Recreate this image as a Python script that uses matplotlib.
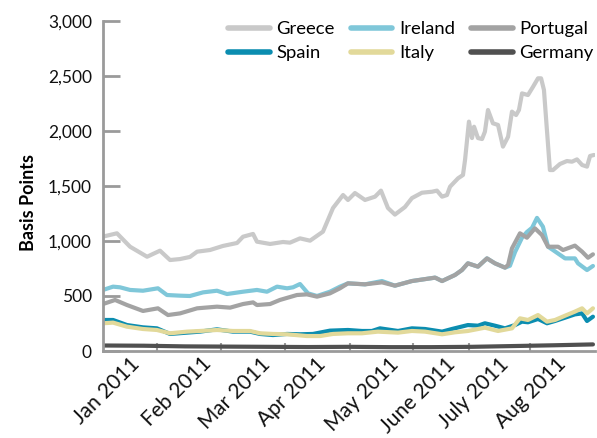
import numpy as np
import matplotlib
matplotlib.use("Agg")
import matplotlib.pyplot as plt
from matplotlib.ticker import FuncFormatter, FixedLocator

# x = days since 1 Jan 2011, y = spread in basis points
greece_x = [0, 6.8, 13.2, 21.5, 27.8, 32.7, 37.6, 42.4, 45.9, 52.2, 58.5, 65.4, 68.3,
            73.2, 75.1, 81.5, 87.8, 91.2, 96.1, 101, 107.3, 112.2, 117.1, 119.5, 122.9,
            127.8, 132.7, 135.6, 139, 142.4, 147.3, 150.7, 155.6, 160.5, 162.9, 165.4,
            167.8, 169.3, 173.2, 175.6, 176.6, 178.5, 180, 181, 182.9, 184.9, 186.3,
            187.8, 190.2, 192.7, 195.1, 197.6, 199.5, 201.5, 202.9, 204.4, 207.3, 209.8,
            212.2, 213.7, 215.1, 218, 219.5, 222.9, 226.3, 228.8, 231.2, 233.7, 236.1,
            237.6, 239.5]
greece_y = [1040, 1070, 948, 857, 912, 827, 836, 855, 903, 918, 955, 982, 1039,
            1064, 994, 973, 991, 985, 1024, 1003, 1085, 1300, 1418, 1373, 1436,
            1373, 1403, 1458, 1300, 1240, 1309, 1390, 1439, 1448, 1458, 1403,
            1418, 1494, 1570, 1600, 1736, 2085, 1936, 2039, 1936, 1927, 1994,
            2191, 2070, 2055, 1858, 1948, 2176, 2145, 2191, 2342, 2327, 2403,
            2479, 2479, 2373, 1645, 1645, 1700, 1727, 1721, 1742, 1691, 1676,
            1773, 1782]

ireland_x = [0, 4.9, 8.3, 13.2, 19.5, 26.8, 31.2, 37.6, 42.4, 48.8, 55.6, 60.5, 68.3,
             75.1, 80, 84.9, 89.8, 92.7, 96.1, 100, 104.4, 110.7, 115.6, 119.5, 127.8,
             136.1, 142.4, 150.7, 162, 165.4, 171.7, 175.1, 178, 182.9, 187.3, 191.2,
             196.1, 198.5, 201, 204.4, 206.8, 209.3, 211.7, 214.6, 217.1, 219.5, 225.4,
             230.2, 231.7, 236.1, 239]
ireland_y = [555, 585, 579, 555, 548, 570, 509, 503, 500, 533, 548, 518, 539,
             555, 539, 585, 570, 579, 609, 524, 500, 539, 585, 615, 606,
             636, 594, 636, 667, 636, 691, 736, 797, 767, 842, 797,
             758, 775, 900, 1030, 1082, 1120, 1210, 1130, 948, 918, 842,
             842, 797, 736, 773]

portugal_x = [0, 5.9, 11.7, 19.5, 26.8, 31.7, 37.6, 45.9, 55.6, 62, 68.3, 73.2, 75.1,
              81.5, 86.3, 94.6, 99.5, 104.4, 110.7, 115.6, 119.5, 127.8, 136.1, 142.4,
              150.7, 162, 165.4, 171.7, 175.1, 178, 182.9, 187.3, 191.2, 196.1, 197.6,
              199.5, 203.4, 206.8, 210.7, 214.1, 217.1, 222, 224.4, 230.2, 233.7,
              236.6, 239]
portugal_y = [427, 464, 418, 364, 388, 327, 342, 388, 403, 394, 427, 442, 418,
              427, 464, 509, 515, 494, 524, 570, 615, 606, 624, 594,
              636, 667, 636, 691, 736, 797, 767, 842, 797, 758, 782,
              933, 1070, 1030, 1115, 1055, 948, 948, 918, 958, 903,
              848, 879]

spain_x = [0, 4.9, 11.7, 19.5, 26.3, 32.7, 41, 47.3, 55.6, 63.4, 71.7, 76.6, 82.9,
           89.8, 96.1, 102.4, 110.7, 119.5, 126.3, 131.2, 135.1, 143.9, 150.7, 157.1,
           165.4, 170.2, 178, 182.9, 186.3, 191.2, 196.1, 201, 204.4, 207.3, 212.2,
           216.6, 220.5, 225.4, 230.2, 233.7, 236.1, 239]
spain_y = [282, 282, 236, 215, 206, 155, 167, 176, 197, 176, 176, 155, 145,
           155, 152, 155, 185, 191, 182, 182, 206, 182, 206, 200,
           176, 200, 236, 230, 252, 230, 206, 236, 267, 261, 291,
           252, 273, 303, 333, 342, 273, 312]

italy_x = [0, 4.9, 11.7, 19.5, 26.3, 32.7, 41, 47.3, 55.6, 63.4, 71.7, 76.6, 82.9,
           89.8, 99.5, 105.9, 112.2, 119.5, 126.3, 134.1, 143.9, 150.7, 157.1, 165.4,
           171.7, 178, 186.3, 192.7, 199.5, 203.4, 207.3, 212.2, 216.6, 220.5, 225.4,
           230.2, 233.7, 236.1, 239]
italy_y = [252, 258, 221, 200, 191, 161, 176, 182, 191, 182, 182, 161, 155,
           152, 136, 136, 155, 161, 161, 176, 167, 182, 176, 152,
           170, 182, 212, 182, 206, 297, 282, 327, 267, 282, 321,
           358, 388, 342, 388]

germany_x = [0, 20, 40, 60, 80, 100, 120, 140, 160, 180, 200, 220, 239]
germany_y = [50, 48, 42, 40, 38, 36, 38, 35, 35, 38, 45, 52, 60]

month_labels = ["Jan 2011", "Feb 2011", "Mar 2011", "Apr 2011", "May 2011",
                "June 2011", "July 2011", "Aug 2011"]
label_pos = [20, 54.8, 83.6, 110.4, 146, 174, 199.7, 228]
tick_pos = [26.3, 57.6, 88.8, 120.5, 151.2, 178.5, 208.3]


def main():
    plt.rcParams["font.family"] = ["Lato", "DejaVu Sans"]
    fig = plt.figure(figsize=(5.97, 4.38), dpi=100)
    ax = fig.add_axes([103 / 597, 1 - 351 / 438, 492 / 597, 330 / 438])

    series = [
        ("Greece", greece_x, greece_y, "#c9c9c9"),
        ("Ireland", ireland_x, ireland_y, "#7fc7d9"),
        ("Portugal", portugal_x, portugal_y, "#a3a3a3"),
        ("Spain", spain_x, spain_y, "#0b8db0"),
        ("Italy", italy_x, italy_y, "#e2d99a"),
        ("Germany", germany_x, germany_y, "#505050"),
    ]
    lines = {}
    for name, x, y, c in series:
        (ln,) = ax.plot(x, y, color=c, lw=3, label=name,
                        solid_capstyle="round", solid_joinstyle="round")
        lines[name] = ln

    ax.set_xlim(0, 240)
    ax.set_ylim(0, 3000)
    ax.set_yticks(np.arange(0, 3001, 500))
    ax.yaxis.set_major_formatter(FuncFormatter(lambda v, p: f"{int(v):,}"))

    ax.xaxis.set_major_locator(FixedLocator(label_pos))
    ax.set_xticklabels(month_labels, rotation=45, ha="right", va="top")
    ax.xaxis.set_minor_locator(FixedLocator(tick_pos))

    gray = "#9a9a9a"
    for s in ["top", "right"]:
        ax.spines[s].set_visible(False)
    for s in ["left", "bottom"]:
        ax.spines[s].set_color(gray)
        ax.spines[s].set_linewidth(2)

    ax.tick_params(axis="y", direction="in", length=12, width=2, color=gray,
                   labelsize=12.5, pad=8, labelcolor="#111111")
    ax.tick_params(axis="x", which="major", length=0, pad=2,
                   labelsize=15, labelcolor="#111111")
    ax.tick_params(axis="x", which="minor", direction="in", length=6, width=1.5,
                   color=gray)

    ax.set_ylabel("Basis Points", fontsize=13, fontweight="bold")
    ax.yaxis.set_label_coords(-0.135, 0.45)

    order = ["Greece", "Spain", "Ireland", "Italy", "Portugal", "Germany"]
    leg = ax.legend([lines[n] for n in order], order, ncol=3, frameon=False,
                    loc="upper left", bbox_to_anchor=(228 / 597, 1 - 21 / 438),
                    bbox_transform=fig.transFigure, borderpad=0, borderaxespad=0,
                    fontsize=13.3, handlelength=2.25, handletextpad=0.38,
                    columnspacing=0.85, labelspacing=0.45)
    for h in leg.get_lines():
        h.set_linewidth(4)

    fig.savefig("out.png", dpi=100)
    plt.close(fig)


if __name__ == "__main__":
    main()
